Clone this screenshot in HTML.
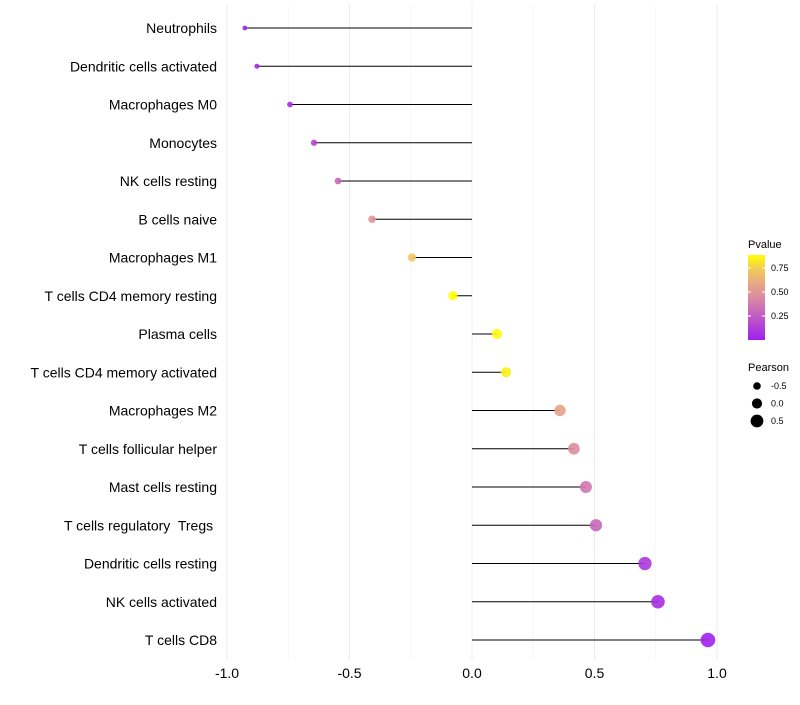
<!DOCTYPE html>
<html><head><meta charset="utf-8"><style>
body{margin:0;background:#fff;font-family:"Liberation Sans",sans-serif}
svg text{font-family:"Liberation Sans",sans-serif;white-space:pre}
</style></head><body>
<svg id="chart" width="800" height="700"></svg>
<script>
const categories=["Neutrophils","Dendritic cells activated","Macrophages M0","Monocytes","NK cells resting","B cells naive","Macrophages M1","T cells CD4 memory resting","Plasma cells","T cells CD4 memory activated","Macrophages M2","T cells follicular helper","Mast cells resting","T cells regulatory  Tregs ","Dendritic cells resting","NK cells activated","T cells CD8"];
const pearson=[-0.927,-0.878,-0.743,-0.645,-0.547,-0.408,-0.245,-0.078,0.102,0.139,0.359,0.416,0.465,0.506,0.706,0.759,0.963];
const pvalue=[0.0,0.02,0.06,0.15,0.3,0.5,0.72,0.9,0.88,0.85,0.56,0.46,0.36,0.3,0.1,0.06,0.0];
const xTicks=[-1.0,-0.5,0.0,0.5,1.0];
const xTickLabels=["-1.0","-0.5","0.0","0.5","1.0"];
const pTicks=[0.25,0.5,0.75];
const sizeTicks=[-0.5,0.0,0.5];

const NS="http://www.w3.org/2000/svg";
const svg=document.getElementById('chart');
function mk(t,a,p){const e=document.createElementNS(NS,t);for(const k in a)e.setAttribute(k,a[k]);(p||svg).appendChild(e);return e;}
const x=v=>472+v*245;
const y=i=>28+i*38.25;
const r=v=>Math.max(1.5,4.8+v*2.6);
function lerp(a,b,t){return a.map((c,i)=>Math.round(c+(b[i]-c)*t));}
function col(p){const s=[[0,[160,32,240]],[0.45,[220,140,160]],[0.7,[240,190,110]],[0.9,[255,255,0]]];
 p=Math.max(0,Math.min(0.9,p));for(let i=0;i<s.length-1;i++){if(p<=s[i+1][0]){const t=(p-s[i][0])/(s[i+1][0]-s[i][0]);const c=lerp(s[i][1],s[i+1][1],t);return `rgb(${c})`;}}return 'rgb(255,255,0)';}

for(let v=-1;v<=1.001;v+=0.25){const major=Math.abs(v*2-Math.round(v*2))<0.01;const g=mk('line',{x1:x(v),x2:x(v),y1:5,y2:660,stroke:major?'#ebebeb':'#f3f3f3','stroke-width':major?1:0.6});
}
xTicks.forEach((v,i)=>{const t=mk('text',{x:x(v),y:678,'text-anchor':'middle','font-size':14,fill:'#000'});t.textContent=xTickLabels[i];
});
categories.forEach((c,i)=>{
 const t=mk('text',{x:217,y:y(i)+5,'text-anchor':'end','font-size':14,fill:'#000'});t.textContent=c;
 
 const l=mk('line',{x1:x(0),x2:x(pearson[i]),y1:y(i),y2:y(i),stroke:'#000','stroke-width':1.1});
 
 const p=mk('circle',{cx:x(pearson[i]),cy:y(i),r:r(pearson[i]),fill:col(pvalue[i]),'fill-opacity':0.9});
 
});
const defs=mk('defs',{});const lg=mk('linearGradient',{id:'pg',x1:0,y1:1,x2:0,y2:0},defs);
[0,0.15,0.3,0.45,0.6,0.75,0.9].forEach(s=>mk('stop',{offset:s/0.885>1?1:s/0.885,'stop-color':col(s)},lg));
const lt=mk('text',{x:748,y:248,'font-size':11});lt.textContent='Pvalue';

const cb=mk('rect',{x:748,y:255,width:17,height:85,fill:'url(#pg)'});

pTicks.forEach(v=>{const yy=340-v*96;mk('line',{x1:748,x2:751,y1:yy,y2:yy,stroke:'#fff'});mk('line',{x1:762,x2:765,y1:yy,y2:yy,stroke:'#fff'});
 const t=mk('text',{x:771,y:yy+3,'font-size':9});t.textContent=v.toFixed(2);
 });
const st=mk('text',{x:748,y:371,'font-size':11});st.textContent='Pearson';

sizeTicks.forEach((v,i)=>{const yy=386+i*17.5;const c=mk('circle',{cx:757,cy:yy,r:r(v)+0.3,fill:'#000'});
 
 const t=mk('text',{x:771,y:yy+3,'font-size':9});t.textContent=v.toFixed(1);
 });
</script>
</body></html>
